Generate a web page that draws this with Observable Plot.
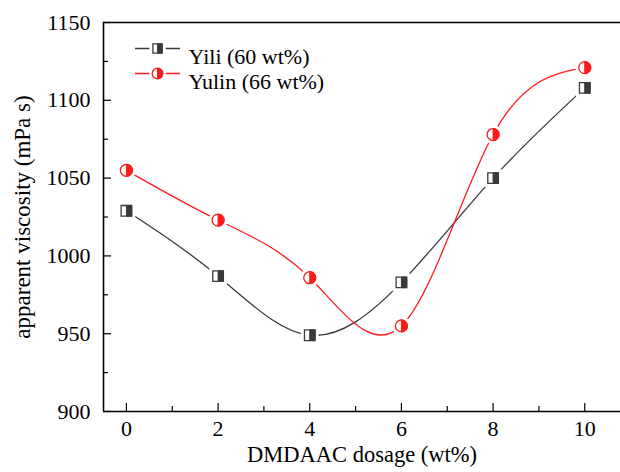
<!DOCTYPE html>
<html><head><meta charset="utf-8">
<script src="https://cdn.jsdelivr.net/npm/d3@7"></script>
<script src="https://cdn.jsdelivr.net/npm/@observablehq/plot@0.6"></script>
<style>body{margin:0;background:#fff}</style>
</head><body><div id="chart"></div>
<script>
const dosage = [0, 2, 4, 6, 8, 10];
const yili = [1029, 987, 949, 983, 1050, 1108];
const yulin = [1055, 1023, 986, 955, 1078, 1121];
const seriesNames = ["Yili (60 wt%)", "Yulin (66 wt%)"];
const xMajor = [0, 2, 4, 6, 8, 10];
const xMinor = [1, 3, 5, 7, 9];
const yMajor = [900, 950, 1000, 1050, 1100, 1150];
const yMinor = [925, 975, 1025, 1075, 1125];

const dataYili = dosage.map((d, i) => ({x: d, y: yili[i]}));
const dataYulin = dosage.map((d, i) => ({x: d, y: yulin[i]}));

const FONT = "'Liberation Serif', 'Times New Roman', Times, 'DejaVu Serif', serif";
const W = 620, H = 472, ML = 103, MR = 0, MT = 22, MB = 61;
const FW = W - ML - MR, FH = H - MT - MB;

const half = size => Math.sqrt(size / Math.PI);
const squareOutline = {draw(c, size) { const s = half(size); c.rect(-s, -s, 2 * s, 2 * s); }};
const squareHalf = {draw(c, size) { const s = half(size); c.moveTo(0, -s); c.lineTo(s, -s); c.lineTo(s, s); c.lineTo(0, s); c.closePath(); }};
const circleOutline = {draw(c, size) { const s = half(size); c.moveTo(s, 0); c.arc(0, 0, s, 0, 2 * Math.PI); }};
const circleHalf = {draw(c, size) { const s = half(size); c.moveTo(0, -s); c.arc(0, 0, s, -Math.PI / 2, Math.PI / 2); c.closePath(); }};
const legendDash = {draw(c, size) { const s = half(size); c.moveTo(-3 * s, 0); c.lineTo(-1.1 * s, 0); c.moveTo(1.1 * s, 0); c.lineTo(3 * s, 0); }};

const GRAY = "#3a3a3a", RED = "#ff1a1a";

function markers(data, outline, halfSym, color, r) {
  return [
    Plot.dot(data, {x: "x", y: "y", symbol: outline, r, fill: "white", stroke: "white", strokeWidth: 7}),
    Plot.dot(data, {x: "x", y: "y", symbol: outline, r, fill: "white", stroke: color, strokeWidth: 1.3}),
    Plot.dot(data, {x: "x", y: "y", symbol: halfSym, r, fill: color, stroke: color, strokeWidth: 1})
  ];
}

function legendItem(i, outline, halfSym, color, r, dy) {
  const d = [seriesNames[i]];
  return [
    Plot.dot(d, {frameAnchor: "top-left", dx: 54, dy, symbol: legendDash, r: 7.5, stroke: color, strokeWidth: 1.3}),
    Plot.dot(d, {frameAnchor: "top-left", dx: 54, dy, symbol: outline, r, fill: "white", stroke: color, strokeWidth: 1.3}),
    Plot.dot(d, {frameAnchor: "top-left", dx: 54, dy, symbol: halfSym, r, fill: color, stroke: color, strokeWidth: 1}),
    Plot.text(d, {text: d => d, frameAnchor: "top-left", dx: 85, dy, textAnchor: "start", fontSize: 22, fontFamily: FONT, fill: "black"})
  ];
}

const chart = Plot.plot({
  width: W,
  height: H,
  marginLeft: ML,
  marginRight: MR,
  marginTop: MT,
  marginBottom: MB,
  style: {fontFamily: FONT, color: "black", background: "white"},
  x: {domain: [-0.5, 10.78]},
  y: {domain: [900, 1150]},
  marks: [
    Plot.axisX(xMajor, {tickSize: 0, tickPadding: 9, tickFormat: d => String(d), fontSize: 22, fontFamily: FONT, label: null}),
    Plot.axisY(yMajor, {tickSize: 0, tickPadding: 13, tickFormat: d => String(d), fontSize: 22, fontFamily: FONT, label: null}),
    Plot.ruleX(xMajor, {x: d => d, insetTop: FH - 8, stroke: "black", strokeWidth: 1.2}),
    Plot.ruleX(xMinor, {x: d => d, insetTop: FH - 5, stroke: "black", strokeWidth: 1.2}),
    Plot.ruleY(yMajor, {y: d => d, insetRight: FW - 8, stroke: "black", strokeWidth: 1.2}),
    Plot.ruleY(yMinor, {y: d => d, insetRight: FW - 5, stroke: "black", strokeWidth: 1.2}),
    Plot.ruleY([900, 1150], {stroke: "black", strokeWidth: 1.6}),
    Plot.ruleX([-0.5], {stroke: "black", strokeWidth: 1.6}),
    Plot.text(["DMDAAC dosage (wt%)"], {frameAnchor: "bottom", dy: 50, fontSize: 22.5, fontFamily: FONT, fill: "black"}),
    Plot.text(["apparent viscosity (mPa s)"], {frameAnchor: "left", dx: -81, rotate: -90, textAnchor: "middle", fontSize: 23, fontFamily: FONT, fill: "black"}),
    Plot.line(dataYili, {x: "x", y: "y", curve: "natural", stroke: GRAY, strokeWidth: 1.3}),
    Plot.line(dataYulin, {x: "x", y: "y", curve: "natural", stroke: RED, strokeWidth: 1.3}),
    ...markers(dataYili, squareOutline, squareHalf, GRAY, 5.3),
    ...markers(dataYulin, circleOutline, circleHalf, RED, 6),
    ...legendItem(0, squareOutline, squareHalf, GRAY, 4.6, 26),
    ...legendItem(1, circleOutline, circleHalf, RED, 5.3, 51)
  ]
});
document.getElementById("chart").appendChild(chart);
</script>
</body></html>
